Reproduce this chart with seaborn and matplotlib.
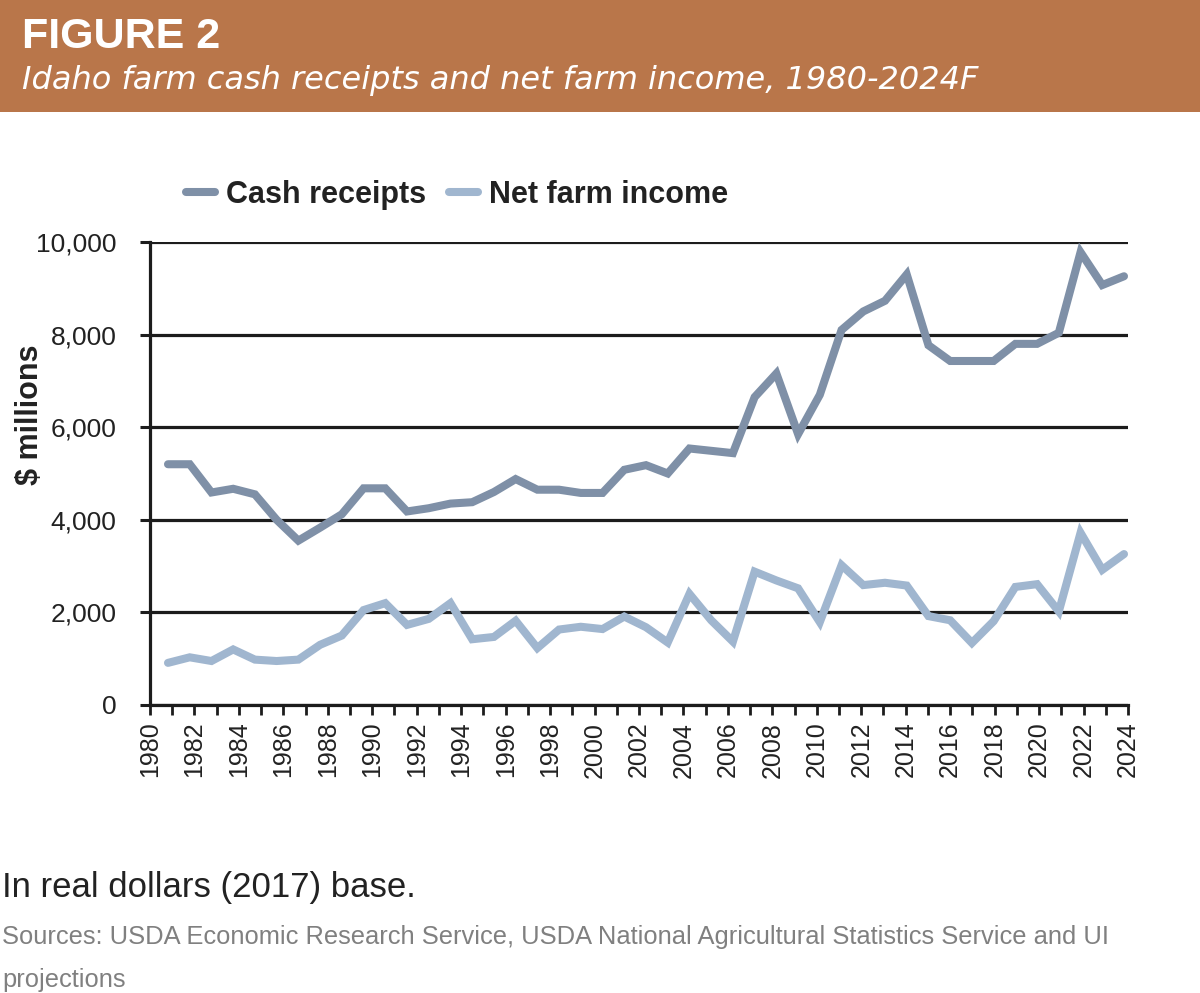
import numpy as np
import pandas as pd
import matplotlib
matplotlib.use("Agg")
import matplotlib.pyplot as plt
from matplotlib.patches import Rectangle
from matplotlib.ticker import FixedLocator, FuncFormatter
import seaborn as sns

# Values ($ millions, real 2017 dollars)
years = list(range(1980, 2025))
cash_receipts = [
    5200, 5200, 4590, 4670, 4550, 4000, 3550, 3830, 4120, 4680,
    4680, 4180, 4250, 4350, 4380, 4600, 4880, 4650, 4650, 4580,
    4580, 5080, 5180, 5000, 5540, 5490, 5440, 6650, 7160, 5850,
    6700, 8100, 8500, 8730, 9300, 7770, 7430, 7430, 7430, 7800,
    7800, 8040, 9780, 9070, 9260,
]
net_farm_income = [
    910, 1030, 950, 1200, 980, 950, 980, 1300, 1500, 2050,
    2200, 1730, 1860, 2200, 1420, 1470, 1820, 1230, 1630, 1690,
    1640, 1910, 1680, 1350, 2400, 1830, 1370, 2880, 2690, 2520,
    1790, 3020, 2590, 2640, 2580, 1920, 1830, 1340, 1810, 2550,
    2610, 2020, 3720, 2920, 3260,
]
series_names = ["Cash receipts", "Net farm income"]
series_colors = ["#7F90A7", "#A0B6CF"]
y_ticks = [0, 2000, 4000, 6000, 8000, 10000]

df = pd.DataFrame({
    "year": years * 2,
    "value": cash_receipts + net_farm_income,
    "series": [series_names[0]] * len(years) + [series_names[1]] * len(years),
})

sns.set_theme(style="white")
plt.rcParams["font.family"] = ["Liberation Sans", "DejaVu Sans"]

W, H = 1200, 993
fig = plt.figure(figsize=(W / 100, H / 100), dpi=100)
fig.patch.set_facecolor("white")

# header band
band_h = 112 / H
fig.patches.append(Rectangle((0, 1 - band_h), 1, band_h, transform=fig.transFigure,
                             facecolor="#B9764A", edgecolor="none", zorder=0))
fig.text(22 / W, 1 - 37 / H, "FIGURE 2", color="white", fontsize=31,
         fontweight="bold", va="center", ha="left")
fig.text(22 / W, 1 - 80 / H, "Idaho farm cash receipts and net farm income, 1980-2024F",
         color="white", fontsize=23, style="italic", va="center", ha="left",
         family=["DejaVu Sans"])

# plot area
ax = fig.add_axes([150 / W, 1 - 705 / H, (1128 - 150) / W, (705 - 242) / H])
sns.lineplot(data=df, x="year", y="value", hue="series", palette=series_colors,
             linewidth=5.8, legend=False, ax=ax,
             solid_capstyle="round", solid_joinstyle="miter")

x0 = years[0] - 18 / 21.73
x1 = years[-1] + 4 / 21.73
ax.set_xlim(x0, x1)
ax.set_ylim(y_ticks[0], y_ticks[-1])

ink = "#1c1c1c"
ax.xaxis.set_major_locator(FixedLocator(np.linspace(x0, x1, len(years))))
ax.set_xticklabels([str(y) if y % 2 == 0 else "" for y in years])
ax.yaxis.set_major_locator(FixedLocator(y_ticks))
ax.yaxis.set_major_formatter(FuncFormatter(lambda v, p: f"{int(v):,}"))

ax.yaxis.grid(True, color=ink, linewidth=2.3)
ax.xaxis.grid(False)
ax.set_axisbelow(True)
for side in ["top", "right"]:
    ax.spines[side].set_visible(False)
for side in ["left", "bottom"]:
    ax.spines[side].set_color(ink)
    ax.spines[side].set_linewidth(2.3)

ax.tick_params(axis="y", direction="out", length=7, width=2.2, color=ink,
               labelsize=19, labelcolor="#222222", pad=17, left=True)
ax.tick_params(axis="x", direction="out", length=7, width=2, color=ink,
               labelsize=18, labelcolor="#222222", pad=5, labelrotation=90, bottom=True)

ax.set_xlabel("")
ax.set_ylabel(r"\$ millions", fontsize=22, fontweight="bold", color="#222222")
ax.yaxis.set_label_coords(-0.107, 0.627)

ax.legend(ax.lines[:2], series_names, loc="center", bbox_to_anchor=(0.381, 0.8036),
          bbox_transform=fig.transFigure, ncol=2, frameon=False,
          prop=dict(weight="bold", size=22), labelcolor="#222222",
          handlelength=0.95, handletextpad=0.35, columnspacing=0.75)

# footer notes
fig.text(2 / W, 1 - 888 / H, "In real dollars (2017) base.", fontsize=25,
         color="#222222", va="center", ha="left")
fig.text(2 / W, 1 - 937 / H,
         "Sources: USDA Economic Research Service, USDA National Agricultural Statistics Service and UI",
         fontsize=18.4, color="#808080", va="center", ha="left")
fig.text(2 / W, 1 - 980 / H, "projections", fontsize=18.4, color="#808080",
         va="center", ha="left")

fig.savefig("out.png", dpi=100)
